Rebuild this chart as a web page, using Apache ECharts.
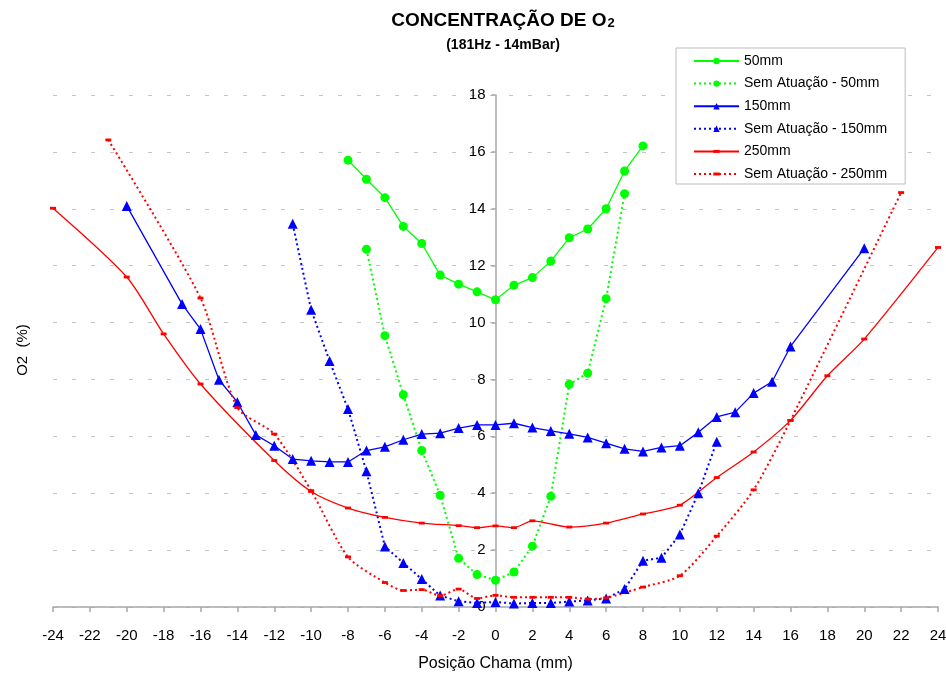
<!DOCTYPE html>
<html>
<head>
<meta charset="utf-8">
<title>Concentração de O2</title>
<script src="https://cdn.jsdelivr.net/npm/echarts@6.0.0/dist/echarts.min.js"></script>
<style>
  html, body { margin: 0; padding: 0; background: #fff; }
  #main { width: 946px; height: 674px; }
</style>
</head>
<body>
<div id="main"></div>
<script>
// posição (mm) e O2 (%)
var pos50 = [-8, -7, -6, -5, -4, -3, -2, -1, 0, 1, 2, 3, 4, 5, 6, 7, 8];
var o2_50 = [15.71, 15.04, 14.39, 13.38, 12.78, 11.67, 11.35, 11.08, 10.8, 11.31, 11.58, 12.16, 12.98, 13.29, 14.0, 15.33, 16.21];

var posSem50 = [-7, -6, -5, -4, -3, -2, -1, 0, 1, 2, 3, 4, 5, 6, 7];
var o2_sem50 = [12.58, 9.54, 7.46, 5.5, 3.93, 1.71, 1.14, 0.94, 1.23, 2.14, 3.89, 7.83, 8.22, 10.84, 14.53];

var pos150 = [-20, -17, -16, -15, -14, -13, -12, -11, -10, -9, -8, -7, -6, -5, -4, -3, -2, -1, 0, 1, 2, 3, 4, 5, 6, 7, 8, 9, 10, 11, 12, 13, 14, 15, 16, 20];
var o2_150 = [14.1, 10.65, 9.77, 7.99, 7.2, 6.05, 5.67, 5.2, 5.14, 5.1, 5.1, 5.5, 5.63, 5.88, 6.08, 6.11, 6.29, 6.4, 6.4, 6.46, 6.31, 6.19, 6.09, 5.96, 5.76, 5.56, 5.47, 5.61, 5.67, 6.14, 6.68, 6.85, 7.52, 7.92, 9.16, 12.61];

var posSem150 = [-11, -10, -9, -8, -7, -6, -5, -4, -3, -2, -1, 0, 1, 2, 3, 4, 5, 6, 7, 8, 9, 10, 11, 12];
var o2_sem150 = [13.47, 10.45, 8.65, 6.96, 4.77, 2.13, 1.55, 0.98, 0.4, 0.2, 0.14, 0.18, 0.12, 0.14, 0.14, 0.19, 0.23, 0.3, 0.63, 1.63, 1.73, 2.55, 4.0, 5.81];

var pos250 = [-24, -20, -18, -16, -12, -10, -8, -6, -4, -2, -1, 0, 1, 2, 4, 6, 8, 10, 12, 14, 16, 18, 20, 24];
var o2_250 = [14.02, 11.6, 9.6, 7.84, 5.15, 4.06, 3.48, 3.15, 2.95, 2.86, 2.79, 2.85, 2.79, 3.03, 2.81, 2.95, 3.27, 3.58, 4.55, 5.45, 6.56, 8.13, 9.42, 12.64];

var posSem250 = [-21, -16, -14, -12, -10, -8, -6, -5, -4, -3, -2, -1, 0, 1, 2, 3, 4, 5, 6, 8, 10, 12, 14, 16, 22];
var o2_sem250 = [16.42, 10.86, 7.01, 6.08, 4.09, 1.76, 0.86, 0.58, 0.61, 0.4, 0.63, 0.3, 0.41, 0.34, 0.34, 0.34, 0.34, 0.28, 0.32, 0.7, 1.1, 2.49, 4.12, 6.56, 14.57];

var xTicks = { min: -24, max: 24, step: 2 };
var yTicks = { min: 0, max: 18, step: 2 };

function pares(xs, ys) {
  return xs.map(function (x, i) { return [x, ys[i]]; });
}

var FONT = 'Liberation Sans, Arial, sans-serif';
var GREEN = '#00ff00', BLUE = '#0000ff', RED = '#ff0000';
var dotted = [2, 3];
// traço vermelho (marcador do Excel): caixa quadrada com um retângulo baixo no meio
var DASH = 'path://M0,0L0,0M0,1.6H6V4.4H0ZM6,6L6,6';

var GRID_LEFT = 53, GRID_RIGHT = 8;
var plotW = 946 - GRID_LEFT - GRID_RIGHT;
var zeroX = plotW * (0 - xTicks.min) / (xTicks.max - xTicks.min);

var chart = echarts.init(document.getElementById('main'), null, { renderer: 'canvas' });

var option = {
  animation: false,
  backgroundColor: '#fff',
  title: {
    text: '{a|CONCENTRAÇÃO DE O}{b|2}',
    subtext: '(181Hz - 14mBar)',
    left: 498,
    textAlign: 'center',
    top: 6,
    itemGap: 8,
    textStyle: {
      fontFamily: FONT,
      rich: {
        a: { fontSize: 19, fontWeight: 'bold', color: '#000', fontFamily: FONT },
        b: { fontSize: 13, fontWeight: 'bold', color: '#000', fontFamily: FONT, verticalAlign: 'bottom', padding: [0, 0, 0, 1] }
      }
    },
    subtextStyle: { fontSize: 14, fontWeight: 'bold', color: '#000', fontFamily: FONT }
  },
  legend: {
    orient: 'vertical',
    left: 676,
    top: 48,
    padding: [6, 18, 3, 17],
    itemGap: 8.6,
    itemWidth: 45,
    itemHeight: 8,
    backgroundColor: '#fff',
    borderColor: '#bdbdbd',
    borderWidth: 1,
    borderRadius: 0,
    textStyle: { fontSize: 14, color: '#000', fontFamily: FONT },
    data: ['50mm', 'Sem Atuação - 50mm', '150mm', 'Sem Atuação - 150mm', '250mm', 'Sem Atuação - 250mm']
  },
  grid: { left: GRID_LEFT, right: GRID_RIGHT, top: 95, bottom: 67, outerBoundsMode: 'none' },
  xAxis: {
    type: 'value',
    min: xTicks.min,
    max: xTicks.max,
    interval: xTicks.step,
    name: 'Posição Chama (mm)',
    nameLocation: 'middle',
    nameGap: 49,
    nameTextStyle: { fontSize: 16, color: '#000', fontFamily: FONT },
    axisLine: { lineStyle: { color: '#a6a6a6', width: 1.5 } },
    axisTick: { show: true, length: 5, lineStyle: { color: '#a6a6a6', width: 1.5 } },
    axisLabel: { fontSize: 15, color: '#000', margin: 21, fontFamily: FONT },
    splitLine: { show: false }
  },
  yAxis: {
    type: 'value',
    min: yTicks.min,
    max: yTicks.max,
    interval: yTicks.step,
    offset: -zeroX,
    axisLine: { show: true, onZero: false, lineStyle: { color: '#a6a6a6', width: 1.5 } },
    axisTick: { show: true, length: 4, lineStyle: { color: '#a6a6a6', width: 1.5 } },
    axisLabel: { fontSize: 15, color: '#000', margin: 10, fontFamily: FONT },
    splitLine: { show: true, lineStyle: { color: '#c4c4c4', width: 1, type: [4, 15] } }
  },
  graphic: [{
    type: 'text',
    x: 23,
    y: 350,
    rotation: Math.PI / 2,
    style: {
      text: 'O2  (%)',
      fontSize: 15,
      fontFamily: FONT,
      fill: '#000',
      align: 'center',
      verticalAlign: 'middle'
    }
  }],
  series: [
    {
      name: '50mm', type: 'line', data: pares(pos50, o2_50),
      symbol: 'circle', symbolSize: 9,
      itemStyle: { color: GREEN },
      lineStyle: { color: GREEN, width: 1.3 }
    },
    {
      name: 'Sem Atuação - 50mm', type: 'line', data: pares(posSem50, o2_sem50),
      symbol: 'circle', symbolSize: 9,
      itemStyle: { color: GREEN },
      lineStyle: { color: GREEN, width: 2, type: dotted }
    },
    {
      name: '150mm', type: 'line', data: pares(pos150, o2_150),
      symbol: 'triangle', symbolSize: 10,
      itemStyle: { color: BLUE },
      lineStyle: { color: BLUE, width: 1.3 }
    },
    {
      name: 'Sem Atuação - 150mm', type: 'line', data: pares(posSem150, o2_sem150),
      symbol: 'triangle', symbolSize: 10,
      itemStyle: { color: BLUE },
      lineStyle: { color: BLUE, width: 2, type: dotted }
    },
    {
      name: '250mm', type: 'line', data: pares(pos250, o2_250),
      symbol: DASH, symbolSize: 6, smooth: 0.25,
      itemStyle: { color: RED },
      lineStyle: { color: RED, width: 1.3 }
    },
    {
      name: 'Sem Atuação - 250mm', type: 'line', data: pares(posSem250, o2_sem250),
      symbol: DASH, symbolSize: 6, smooth: 0.25,
      itemStyle: { color: RED },
      lineStyle: { color: RED, width: 2, type: dotted }
    }
  ]
};

option && chart.setOption(option);
</script>
</body>
</html>
